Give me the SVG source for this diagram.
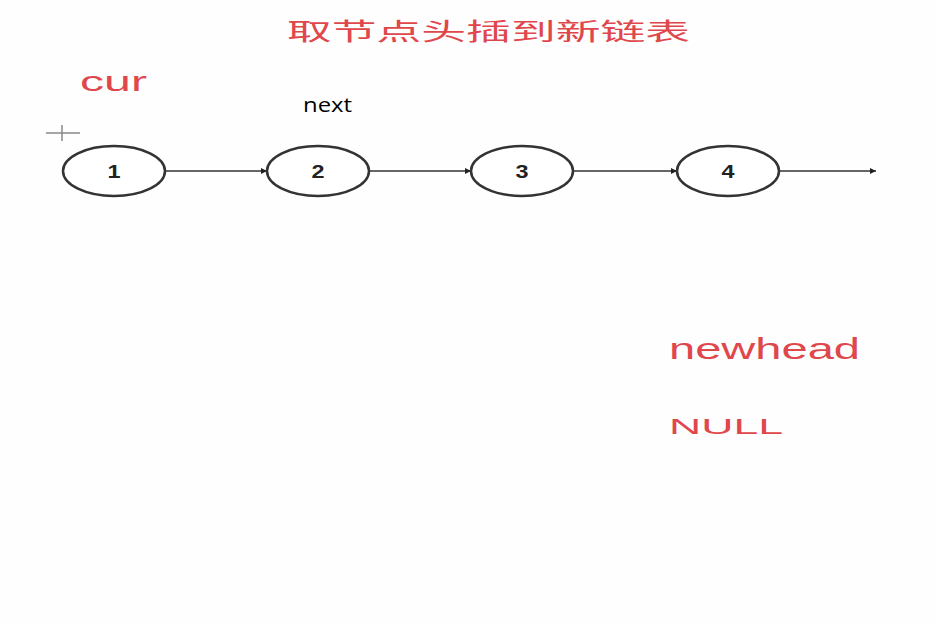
<svg xmlns="http://www.w3.org/2000/svg" width="935" height="624" viewBox="0 0 935 624">
<style>
.red{fill:#e0474c;font-family:"Liberation Sans","Noto Sans CJK SC",sans-serif;}
.node ellipse{fill:#fff;stroke:#333;stroke-width:2.5;}
.node text{font-family:"Liberation Sans",sans-serif;font-weight:bold;font-size:18px;fill:#222;text-anchor:middle;}
.conn line{stroke:#333;stroke-width:1.5;marker-end:url(#ah);}
</style>
<defs>
<marker id="ah" viewBox="0 0 10 10" refX="10" refY="5" markerWidth="11" markerHeight="6" orient="auto" markerUnits="userSpaceOnUse">
<path d="M0,0 L10,5 L0,10 Z" fill="#222"/>
</marker>
</defs>
<rect width="935" height="624" fill="#fefefe"/>
<text class="red" x="287" y="40" font-size="24" textLength="403" lengthAdjust="spacingAndGlyphs">取节点头插到新链表</text>
<text class="red" x="80" y="91" font-size="28" textLength="67" lengthAdjust="spacingAndGlyphs">cur</text>
<text x="303" y="112" font-family="'Open Sans','Liberation Sans',sans-serif" font-size="20" fill="#000" textLength="49" lengthAdjust="spacingAndGlyphs">next</text>
<g id="cursor" stroke="#888" stroke-width="1.5">
<line x1="46" y1="133" x2="80" y2="133"/>
<line x1="62" y1="125" x2="62" y2="141"/>
</g>
<g class="conn" id="connectors">
<line x1="165" y1="171" x2="267" y2="171"/>
<line x1="369" y1="171" x2="471" y2="171"/>
<line x1="573" y1="171" x2="677" y2="171"/>
<line x1="779" y1="171" x2="876" y2="171"/>
</g>
<g class="node" id="n1"><ellipse cx="114" cy="171" rx="51" ry="25"/><text x="114" y="178" transform="translate(114 0) scale(1.3 1) translate(-114 0)">1</text></g>
<g class="node" id="n2"><ellipse cx="318" cy="171" rx="51" ry="25"/><text x="318" y="178" transform="translate(318 0) scale(1.3 1) translate(-318 0)">2</text></g>
<g class="node" id="n3"><ellipse cx="522" cy="171" rx="51" ry="25"/><text x="522" y="178" transform="translate(522 0) scale(1.3 1) translate(-522 0)">3</text></g>
<g class="node" id="n4"><ellipse cx="728" cy="171" rx="51" ry="25"/><text x="728" y="178" transform="translate(728 0) scale(1.3 1) translate(-728 0)">4</text></g>
<text class="red" x="669" y="359" font-size="30" textLength="191" lengthAdjust="spacingAndGlyphs">newhead</text>
<text class="red" x="669" y="434" font-size="22" textLength="114" lengthAdjust="spacingAndGlyphs">NULL</text>
</svg>
